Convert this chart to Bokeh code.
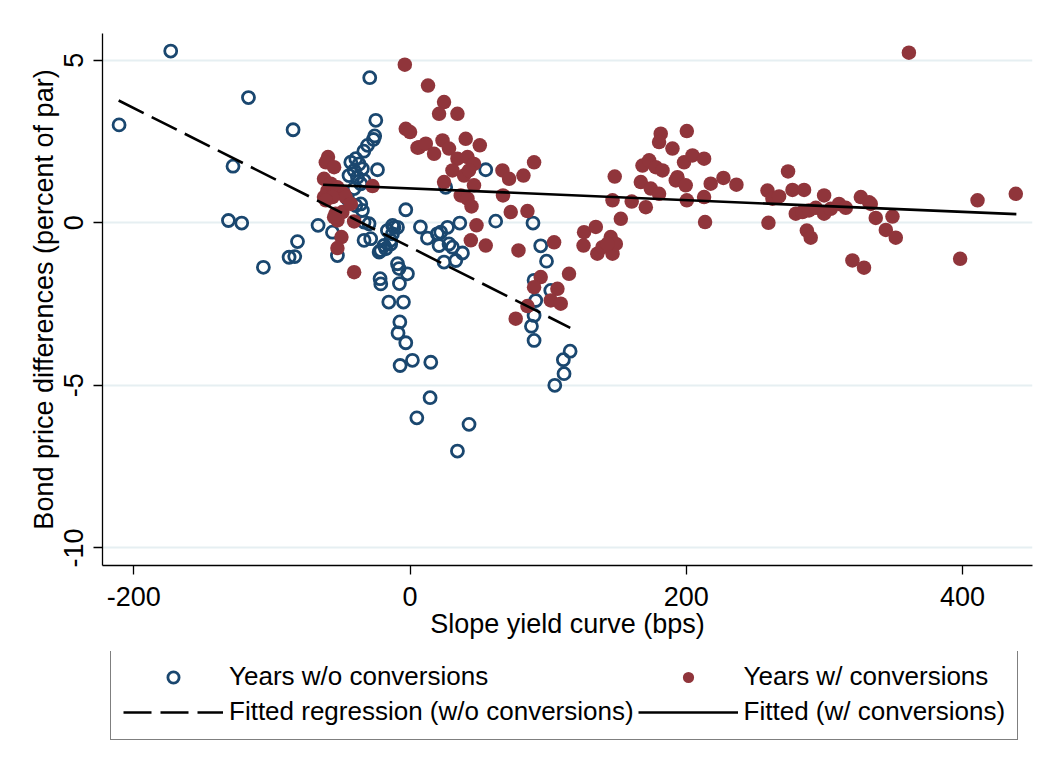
from bokeh.plotting import figure
from bokeh.models import Range1d, Legend, LegendItem, FixedTicker
from bokeh.layouts import column
from bokeh.embed import file_html
from bokeh.resources import INLINE

# ---- data ----
wo_x = [-173.3, -210.7, -117.0, -29.2, -84.7, -128.2, -24.8, -25.6, -26.5, -30.8, -33.5,
        -23.6, -39.3, -42.9, -36.9, -34.5, -40.5, -44.2, -38.1, -33.3, -35.7, -40.5,
        -45.3, -39.3, -34.5, -35.7, -3.1, -131.5, -121.9, -66.6, -81.5, -106.2, -87.6,
        -83.5, -56.2, -52.6, -33.3, -29.7, -33.3, -28.5, -22.4, -12.7, -16.4, -14.0,
        -18.8, -21.2, -9.1, -11.6, -12.7, -17.6, -14.0, -9.1, -8.0, -1.9, -21.7, -21.2,
        -7.7, -15.4, -4.8, -7.4, -8.7, -3.1, -7.2, 1.7, 15.0, 14.5, 4.9, 42.7, 34.3,
        7.5, 12.6, 19.8, 22.2, 27.1, 21.0, 28.2, 30.7, 24.6, 33.1, 37.9, 36.0, 62.0,
        89.0, 94.6, 98.8, 89.8, 91.0, 89.8, 87.9, 89.8, 101.9, 115.9, 111.0, 111.5,
        104.8, 25.8, 54.8]
wo_y = [5.28, 3.01, 3.85, 4.46, 2.86, 1.74, 3.15, 2.67, 2.56, 2.38, 2.20,
        1.63, 1.97, 1.86, 1.81, 1.66, 1.61, 1.45, 1.40, 1.30, 1.20, 1.05,
        0.74, 0.53, 0.38, 0.58, 0.40, 0.07, -0.01, -0.08, -0.58, -1.37, -1.06,
        -1.04, -0.29, -1.01, 0.02, -0.03, -0.54, -0.49, -0.90, -0.08, -0.24, -0.54,
        -0.70, -0.85, -0.14, -0.14, -0.34, -0.80, -0.65, -1.26, -1.41, -1.57, -1.72, -1.88,
        -1.87, -2.44, -2.44, -3.05, -3.39, -3.69, -4.39, -4.23, -4.29, -5.38, -6.00, -6.20, -7.02,
        -0.13, -0.47, -0.34, -0.29, -0.14, -0.70, -0.65, -0.75, -1.21, -1.16, -0.93, -0.01, 0.05,
        -0.01, -0.71, -1.18, -1.77, -2.39, -2.85, -3.18, -3.62, -2.08, -3.95, -4.21, -4.64,
        -5.00, 1.09, 1.63]

w_x = [-3.8, -3.1, 0.0, 5.4, -59.4, -61.0, -55.0, -62.3, -57.4, -59.8, -62.3, -52.6,
       -47.8, -46.6, -27.2, -49.0, -52.6, -40.5, -49.7, -52.6, -40.5, -53.9, -56.2, -61.0,
       -42.9, -55.0, 13.0, 24.6, 21.0, 34.3, 6.5, 11.4, 17.4, 23.5, 28.2, 40.3, 50.5,
       34.3, 41.6, 46.3, 30.7, 39.1, 42.7, 24.6, 46.3, 36.7, 41.6, 44.5, 66.9, 71.7,
       82.1, 89.8, 67.3, 72.9, 85.0, 48.1, 44.0, 54.8, 78.5, 104.3, 115.1, 94.6, 89.8,
       106.7, 101.9, 109.1, 85.0, 76.5, 126.0, 134.5, 125.6, 135.6, 139.3, 145.3, 146.6,
       149.0, 142.9, 148.2, 146.6, 152.6, 160.5, 170.7, 168.3, 173.1, 167.1, 174.3, 180.3,
       181.5, 180.3, 190.0, 200.4, 177.9, 182.8, 193.6, 192.4, 199.6, 198.4, 204.5, 212.9,
       200.4, 212.9, 213.6, 217.7, 226.9, 236.3, 258.8, 262.4, 267.2, 259.5, 273.7, 276.9,
       285.3, 279.3, 284.1, 288.9, 293.8, 299.8, 299.8, 287.3, 290.1, 304.6, 310.6, 315.5,
       320.3, 328.7, 326.4, 332.4, 333.6, 337.2, 344.5, 349.3, 351.7, 398.3, 410.9, 438.6,
       361.2]
w_y = [4.86, 2.89, 2.79, 2.31, 2.02, 1.86, 1.71, 1.35, 1.20, 0.99, 0.79, 1.09,
       0.89, 0.79, 1.13, 0.33, 0.07, 0.04, -0.44, -0.78, -1.52, 0.28, 0.79, 0.69,
       0.58, 0.17, 4.22, 3.71, 3.35, 3.35, 2.32, 2.43, 2.12, 2.53, 2.28, 2.58, 2.38,
       1.97, 2.02, 1.81, 1.61, 1.45, 1.61, 1.25, 1.15, 0.84, 0.74, 0.50, 1.61, 1.35,
       1.45, 1.86, 0.84, 0.33, 0.36, -0.08, -0.54, -0.70, -0.85, -0.60, -1.57, -1.67, -1.98,
       -2.03, -2.39, -2.49, -2.56, -2.95, -0.29, -0.13, -0.70, -0.95, -0.75, -0.44, -0.95,
       -0.65, -0.65, 1.42, 0.69, 0.12, 0.65, 0.48, 1.76, 1.92, 1.25, 1.05, 0.89,
       2.74, 2.48, 2.28, 2.82, 1.71, 1.61, 1.40, 1.30, 1.15, 1.86, 2.07, 1.97,
       0.69, 0.79, 0.02, 1.20, 1.38, 1.17, 0.99, 0.74, 0.81, 0.00, 1.58, 1.01,
       1.01, 0.28, 0.33, 0.38, 0.46, 0.28, 0.84, -0.24, -0.46, 0.43, 0.58, 0.46,
       -1.16, -1.38, 0.79, 0.63, 0.58, 0.15, -0.22, 0.19, -0.46, -1.11, 0.69, 0.89,
       5.23]

fit_wo_x = [-211.0, 116.0]
fit_wo_y = [3.76, -3.23]
fit_w_x = [-63.0, 439.0]
fit_w_y = [1.17, 0.265]

x_ticks = [-200, 0, 200, 400]
x_tick_labels = ["-200", "0", "200", "400"]
y_ticks = [-10, -5, 0, 5]
y_tick_labels = ["-10", "-5", "0", "5"]

labels = ["Years w/o conversions", "Years w/ conversions",
          "Fitted regression (w/o conversions)", "Fitted (w/ conversions)"]
x_title = "Slope yield curve (bps)"
y_title = "Bond price differences (percent of par)"

BLUE = "#1a476f"
RED = "#90353b"
FONT = "Liberation Sans"
FS = "27px"
LFS = "26px"

WO_STYLE = dict(marker="circle", size=12, fill_color=None, line_color=BLUE, line_width=2.8)
W_STYLE = dict(marker="circle", size=14.5, fill_color=RED, line_color=None)
FWO_STYLE = dict(line_color="black", line_width=2.6, line_dash="28 9")
FW_STYLE = dict(line_color="black", line_width=2.6)

p = figure(frame_width=930, frame_height=532,
           x_range=Range1d(-222.7, 450.7), y_range=Range1d(-10.54, 5.82),
           output_backend="svg", toolbar_location=None,
           min_border_left=102, min_border_top=33, min_border_right=8, min_border_bottom=86)
p.outline_line_color = None
p.background_fill_color = "white"
p.border_fill_color = "white"

p.xgrid.visible = False
p.ygrid.ticker = FixedTicker(ticks=y_ticks)
p.ygrid.grid_line_color = "#e6eff2"
p.ygrid.grid_line_width = 2

for ax, ticks, tl in ((p.xaxis, x_ticks, x_tick_labels), (p.yaxis, y_ticks, y_tick_labels)):
    ax.ticker = FixedTicker(ticks=ticks)
    ax.major_label_overrides = {t: s for t, s in zip(ticks, tl)}
    ax.minor_tick_line_color = None
    ax.major_tick_in = 0
    ax.major_tick_out = 9
    ax.axis_line_color = "black"
    ax.axis_line_width = 1.3
    ax.major_tick_line_color = "black"
    ax.major_tick_line_width = 1.3
    ax.major_label_text_font = FONT
    ax.major_label_text_font_size = FS
    ax.major_label_text_color = "black"
    ax.axis_label_text_font = FONT
    ax.axis_label_text_font_size = FS
    ax.axis_label_text_font_style = "normal"
    ax.axis_label_text_color = "black"

p.xaxis.axis_label = x_title
p.yaxis.axis_label = y_title
p.xaxis.major_label_standoff = 12
p.xaxis.axis_label_standoff = 0
p.yaxis.major_label_orientation = "vertical"
p.yaxis.major_label_standoff = 10
p.yaxis.axis_label_standoff = 3

p.scatter(wo_x, wo_y, **WO_STYLE)
p.scatter(w_x, w_y, **W_STYLE)
p.line(fit_wo_x, fit_wo_y, **FWO_STYLE)
p.line(fit_w_x, fit_w_y, **FW_STYLE)

# ---- legend panel underneath: key renderers sit outside this panel's visible range ----
q = figure(width=1040, height=100, x_range=Range1d(1000, 1001), y_range=Range1d(1000, 1001),
           output_backend="svg", toolbar_location=None,
           min_border_left=102, min_border_top=0, min_border_right=8, min_border_bottom=0)
q.axis.visible = False
q.grid.visible = False
q.outline_line_color = None
q.background_fill_color = "white"
q.border_fill_color = "white"

k_wo = q.scatter(wo_x, wo_y, **WO_STYLE)
k_w = q.scatter(w_x, w_y, **W_STYLE)
k_fwo = q.line(fit_wo_x, fit_wo_y, **FWO_STYLE)
k_fw = q.line(fit_w_x, fit_w_y, **FW_STYLE)

legend = Legend(items=[LegendItem(label=labels[0], renderers=[k_wo]),
                       LegendItem(label=labels[1], renderers=[k_w]),
                       LegendItem(label=labels[2], renderers=[k_fwo]),
                       LegendItem(label=labels[3], renderers=[k_fw])],
                ncols=2, orientation="horizontal", location=(8, 11),
                glyph_width=100, glyph_height=28, label_height=28,
                label_standoff=6, spacing=4, padding=12, margin=0,
                border_line_color="black", border_line_width=1.5,
                background_fill_color="white", background_fill_alpha=1.0,
                label_text_font=FONT, label_text_font_size=LFS, label_text_color="black")
q.add_layout(legend, "center")

layout = column(p, q, spacing=0)
open("out.html", "w").write(file_html(layout, INLINE))
